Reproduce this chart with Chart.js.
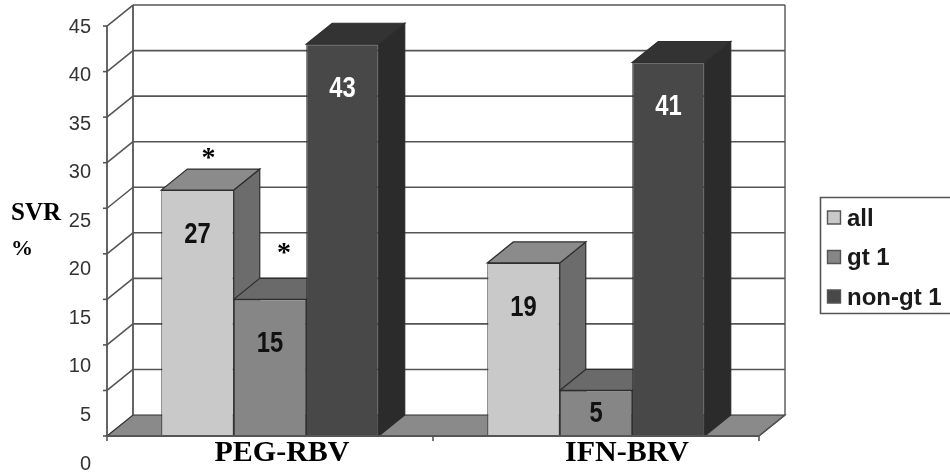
<!DOCTYPE html>
<html>
<head>
<meta charset="utf-8">
<style>html,body{margin:0;padding:0;background:#fff;overflow:hidden}canvas{display:block}</style>
<script src="https://cdn.jsdelivr.net/npm/chart.js@4"></script>
</head>
<body>
<canvas id="c" width="950" height="474"></canvas>
<script>
const categories = ['PEG-RBV', 'IFN-BRV'];
const seriesNames = ['all', 'gt 1', 'non-gt 1'];
const allValues = [27, 19];
const gt1Values = [15, 5];
const nonGt1Values = [43, 41];
const yTickLabels = [0, 5, 10, 15, 20, 25, 30, 35, 40, 45];

const frontColors = ['#c9c9c9', '#868686', '#484848'];
const sideColors = ['#6c6c6c', '#5e5e5e', '#2b2b2b'];
const topColors = ['#8b8b8b', '#6a6a6a', '#333333'];
const valueColors = ['#111', '#111', '#fff'];
const LINE = '#555555', EDGE = '#2e2e2e', FLOOR = '#8a8a8a';
const DX = 26, DY = -21;
const SANS = '"Liberation Sans",sans-serif';
const SERIF = '"Liberation Serif",serif';

function poly(ctx, pts, fill, stroke, w) {
  ctx.beginPath();
  pts.forEach((p, i) => i ? ctx.lineTo(p[0], p[1]) : ctx.moveTo(p[0], p[1]));
  ctx.closePath();
  if (fill) { ctx.fillStyle = fill; ctx.fill(); }
  if (stroke) { ctx.strokeStyle = stroke; ctx.lineWidth = w || 1; ctx.stroke(); }
}
function seg(ctx, x1, y1, x2, y2, c, w) {
  ctx.beginPath(); ctx.moveTo(x1, y1); ctx.lineTo(x2, y2);
  ctx.strokeStyle = c; ctx.lineWidth = w; ctx.stroke();
}
function text(ctx, s, x, y, font, color, align) {
  ctx.font = font; ctx.fillStyle = color; ctx.textAlign = align || 'center';
  ctx.textBaseline = 'middle'; ctx.fillText(s, x, y);
}
function narrowText(ctx, s, x, y, font, color) {
  ctx.save();
  ctx.translate(x, y);
  ctx.scale(0.82, 1);
  text(ctx, s, 0, 0, font, color);
  ctx.restore();
}

const box3d = {
  id: 'box3d',
  beforeDatasetsDraw(chart) {
    const { ctx, scales: { x, y } } = chart;
    const L = x.left, R = x.right, B = y.getPixelForValue(0), T = y.getPixelForValue(45);
    ctx.save();
    poly(ctx, [[L, B], [R, B], [R + DX, B + DY], [L + DX, B + DY]], FLOOR, EDGE, 1.2);
    yTickLabels.forEach(v => {
      const py = y.getPixelForValue(v);
      if (v > 0) {
        seg(ctx, L, py, L + DX, py + DY, LINE, 1.6);
        seg(ctx, L + DX, py + DY, R + DX, py + DY, LINE, 1.6);
      }
      seg(ctx, L - 4, py, L, py, LINE, 1.6);
    });
    seg(ctx, L, T, L, B, LINE, 1.8);
    seg(ctx, L + DX, T + DY, L + DX, B + DY, LINE, 1.8);
    seg(ctx, R + DX, T + DY, R + DX, B + DY, LINE, 1.4);
    seg(ctx, R, B, R + DX, B + DY, LINE, 1.4);
    categories.forEach((_, ci) => {
      seriesNames.forEach((_, si) => {
        const el = chart.getDatasetMeta(si).data[ci];
        const l = el.x - el.width / 2, r = el.x + el.width / 2, t = el.y;
        poly(ctx, [[r, t], [r + DX, t + DY], [r + DX, B + DY], [r, B]], sideColors[si], EDGE, 1.2);
        poly(ctx, [[l, t], [r, t], [r + DX, t + DY], [l + DX, t + DY]], topColors[si], EDGE, 1.2);
      });
    });
    ctx.restore();
  },
  afterDatasetsDraw(chart) {
    const { ctx, scales: { x, y } } = chart;
    const L = x.left, R = x.right, B = y.getPixelForValue(0);
    ctx.save();
    seg(ctx, L, B, R, B, LINE, 2);
    [L, (L + R) / 2, R].forEach(px => seg(ctx, px, B, px, B + 5, LINE, 1.6));
    chart.data.datasets.forEach((ds, si) => {
      chart.getDatasetMeta(si).data.forEach((el, ci) => {
        const h = B - el.y;
        narrowText(ctx, String(ds.data[ci]), el.x, el.y + Math.min(45, h / 2 + 1), 'bold 29px ' + SANS, valueColors[si]);
      });
    });
    const shift = [12, 31];
    categories.forEach((c, i) => {
      text(ctx, c, x.getPixelForValue(i) + shift[i], B + 17, 'bold 30px ' + SERIF, '#000');
    });
    const b1 = chart.getDatasetMeta(0).data[0], b2 = chart.getDatasetMeta(1).data[0];
    text(ctx, '*', b1.x + 11, b1.y - 31, 'bold 28px ' + SERIF, '#000');
    text(ctx, '*', b2.x + 14, b2.y - 46, 'bold 28px ' + SERIF, '#000');
    text(ctx, 'SVR', 11, 214, 'bold 25px ' + SERIF, '#000', 'left');
    text(ctx, '%', 11, 249, 'bold 22px ' + SERIF, '#000', 'left');
    poly(ctx, [[820.5, 197.5], [956, 197.5], [956, 313.5], [820.5, 313.5]], '#fff', LINE, 1.6);
    seriesNames.forEach((n, i) => {
      const cy = 218 + i * 39.5;
      poly(ctx, [[827.5, cy - 7], [840.5, cy - 7], [840.5, cy + 6], [827.5, cy + 6]], frontColors[i], LINE, 1.4);
      text(ctx, n, 847, cy + 1, 'bold 24px ' + SANS, '#1a1a1a', 'left');
    });
    ctx.restore();
  }
};

new Chart(document.getElementById('c'), {
  type: 'bar',
  data: {
    labels: categories,
    datasets: [
      { label: seriesNames[0], data: allValues, backgroundColor: frontColors[0], yAxisID: 'y' },
      { label: seriesNames[1], data: gt1Values, backgroundColor: frontColors[1], yAxisID: 'y' },
      { label: seriesNames[2], data: nonGt1Values, backgroundColor: frontColors[2], yAxisID: 'y' }
    ].map(d => Object.assign(d, { borderColor: EDGE, borderWidth: 1, borderSkipped: false, barPercentage: 1, categoryPercentage: 0.667 }))
  },
  options: {
    responsive: false,
    animation: false,
    layout: { padding: { top: 27, left: 67, right: 191, bottom: 10 } },
    plugins: { legend: { display: false }, tooltip: { enabled: false } },
    scales: {
      x: {
        ticks: { display: false }, grid: { display: false }, border: { display: false },
        afterFit(s) { s.height = 0; }
      },
      y: {
        display: false, min: -3.074, max: 44.896
      },
      y2: {
        position: 'left', min: 0, max: 45,
        grid: { display: false, drawTicks: false }, border: { display: false },
        ticks: {
          stepSize: 5, padding: 16, color: '#333',
          font: { family: SANS, size: 20 },
          callback: v => yTickLabels.includes(v) ? String(v) : ''
        },
        afterFit(s) { s.width = 40; s.paddingTop = 0; s.paddingBottom = 0; }
      }
    }
  },
  plugins: [box3d]
});
</script>
</body>
</html>
